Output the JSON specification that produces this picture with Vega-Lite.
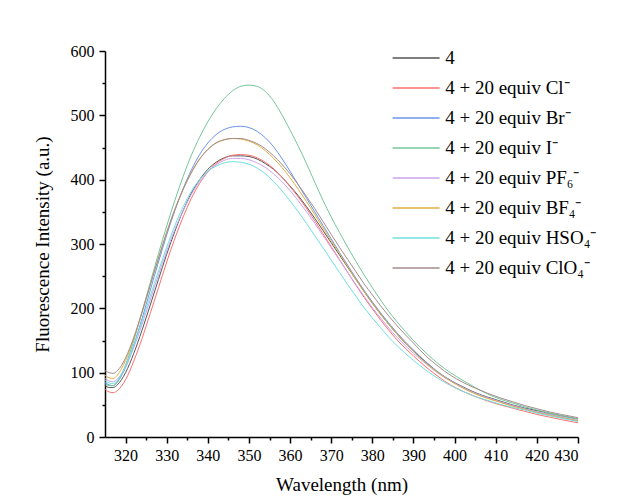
{
  "$schema": "https://vega.github.io/schema/vega-lite/v6.json",
  "width": 473,
  "height": 386,
  "autosize": "none",
  "padding": {"left": 105, "top": 51, "right": 43, "bottom": 61},
  "background": "white",
  "config": {
    "font": "Liberation Serif",
    "view": {"stroke": null},
    "axis": {"grid": false, "domainColor": "black", "domainWidth": 1.5, "tickColor": "black", "tickWidth": 1.5, "labelColor": "black", "titleColor": "black", "labelFont": "Liberation Serif", "titleFont": "Liberation Serif", "labelFontSize": 16, "titleFontSize": 19, "titleFontWeight": "normal"},
    "legend": {"labelFont": "Liberation Serif"}
  },
  "data": {"values": [
    {"x":315,"a":80,"b":74,"c":85,"d":83,"e":91,"f":96,"g":88,"h":103},
    {"x":316,"a":77,"b":70,"c":81,"d":80,"e":87,"f":92,"g":84,"h":100},
    {"x":317,"a":77,"b":69,"c":80,"d":80,"e":86,"f":91,"g":83,"h":99},
    {"x":318,"a":81,"b":72,"c":85,"d":86,"e":90,"f":96,"g":88,"h":103},
    {"x":319,"a":89,"b":79,"c":95,"d":97,"e":98,"f":106,"g":97,"h":111},
    {"x":320,"a":100,"b":89,"c":108,"d":112,"e":109,"f":119,"g":110,"h":123},
    {"x":322,"a":130,"b":118,"c":143,"d":150,"e":139,"f":153,"g":142,"h":155},
    {"x":324,"a":166,"b":153,"c":184,"d":195,"e":175,"f":193,"g":180,"h":194},
    {"x":326,"a":205,"b":192,"c":228,"d":240,"e":213,"f":236,"g":219,"h":236},
    {"x":328,"a":245,"b":232,"c":272,"d":285,"e":252,"f":278,"g":258,"h":278},
    {"x":330,"a":284,"b":272,"c":314,"d":328,"e":289,"f":318,"g":295,"h":318},
    {"x":332,"a":320,"b":309,"c":352,"d":368,"e":323,"f":354,"g":329,"h":354},
    {"x":334,"a":352,"b":342,"c":386,"d":405,"e":352,"f":385,"g":358,"h":385},
    {"x":336,"a":379,"b":371,"c":415,"d":438,"e":377,"f":411,"g":382,"h":411},
    {"x":338,"a":400,"b":394,"c":439,"d":466,"e":397,"f":432,"g":400,"h":432},
    {"x":340,"a":416,"b":412,"c":457,"d":490,"e":412,"f":447,"g":413,"h":447},
    {"x":342,"a":427,"b":425,"c":470,"d":510,"e":423,"f":457,"g":421,"h":457},
    {"x":344,"a":434,"b":433,"c":478,"d":526,"e":430,"f":462,"g":426,"h":462},
    {"x":346,"a":437,"b":438,"c":482,"d":538,"e":433,"f":464,"g":428,"h":464},
    {"x":348,"a":437,"b":439,"c":483,"d":545,"e":433,"f":463,"g":427,"h":464},
    {"x":350,"a":436,"b":438,"c":481,"d":547,"e":431,"f":460,"g":424,"h":461},
    {"x":352,"a":432,"b":434,"c":475,"d":545,"e":426,"f":454,"g":418,"h":456},
    {"x":354,"a":425,"b":427,"c":465,"d":537,"e":419,"f":445,"g":409,"h":448},
    {"x":356,"a":416,"b":417,"c":451,"d":522,"e":409,"f":433,"g":397,"h":437},
    {"x":358,"a":404,"b":404,"c":433,"d":501,"e":397,"f":419,"g":383,"h":424},
    {"x":360,"a":390,"b":389,"c":413,"d":477,"e":383,"f":403,"g":367,"h":409},
    {"x":362,"a":375,"b":373,"c":392,"d":452,"e":367,"f":385,"g":350,"h":392},
    {"x":364,"a":358,"b":355,"c":371,"d":425,"e":350,"f":366,"g":332,"h":374},
    {"x":366,"a":340,"b":336,"c":350,"d":396,"e":332,"f":346,"g":313,"h":355},
    {"x":368,"a":321,"b":316,"c":329,"d":368,"e":313,"f":325,"g":294,"h":335},
    {"x":370,"a":302,"b":296,"c":308,"d":342,"e":294,"f":305,"g":275,"h":315},
    {"x":372,"a":283,"b":276,"c":287,"d":318,"e":275,"f":285,"g":256,"h":295},
    {"x":374,"a":264,"b":256,"c":267,"d":295,"e":256,"f":265,"g":237,"h":276},
    {"x":376,"a":245,"b":236,"c":247,"d":273,"e":237,"f":245,"g":219,"h":257},
    {"x":378,"a":226,"b":217,"c":228,"d":252,"e":219,"f":226,"g":201,"h":238},
    {"x":380,"a":208,"b":199,"c":210,"d":232,"e":201,"f":208,"g":185,"h":221},
    {"x":382,"a":191,"b":182,"c":193,"d":213,"e":185,"f":191,"g":170,"h":204},
    {"x":384,"a":175,"b":166,"c":177,"d":195,"e":169,"f":175,"g":155,"h":188},
    {"x":386,"a":160,"b":151,"c":162,"d":179,"e":155,"f":160,"g":142,"h":173},
    {"x":388,"a":146,"b":138,"c":148,"d":164,"e":142,"f":146,"g":130,"h":159},
    {"x":390,"a":134,"b":126,"c":135,"d":150,"e":130,"f":133,"g":119,"h":146},
    {"x":393,"a":116,"b":109,"c":117,"d":131,"e":114,"f":115,"g":104,"h":126},
    {"x":396,"a":100,"b":94,"c":101,"d":114,"e":99,"f":100,"g":91,"h":110},
    {"x":399,"a":88,"b":81,"c":88,"d":100,"e":87,"f":87,"g":80,"h":96},
    {"x":402,"a":78,"b":71,"c":77,"d":88,"e":77,"f":76,"g":71,"h":85},
    {"x":405,"a":69,"b":63,"c":68,"d":77,"e":68,"f":67,"g":63,"h":76},
    {"x":408,"a":62,"b":56,"c":61,"d":67,"e":61,"f":60,"g":57,"h":68},
    {"x":411,"a":56,"b":50,"c":55,"d":59,"e":55,"f":54,"g":51,"h":61},
    {"x":414,"a":50,"b":45,"c":49,"d":53,"e":49,"f":48,"g":46,"h":55},
    {"x":417,"a":45,"b":40,"c":44,"d":47,"e":44,"f":43,"g":42,"h":49},
    {"x":420,"a":41,"b":35,"c":39,"d":42,"e":39,"f":38,"g":37,"h":44},
    {"x":423,"a":37,"b":31,"c":35,"d":37,"e":35,"f":34,"g":33,"h":39},
    {"x":426,"a":33,"b":27,"c":31,"d":33,"e":31,"f":30,"g":29,"h":35},
    {"x":430,"a":28,"b":22,"c":25,"d":28,"e":26,"f":25,"g":24,"h":30}
  ]},
  "transform": [
    {"fold": ["a","b","c","d","e","f","g","h"], "as": ["key","value"]},
    {"lookup": "key", "from": {"data": {"values": [
      {"key":"a","label":"4"},
      {"key":"b","label":"4 + 20 equiv Cl⁻"},
      {"key":"c","label":"4 + 20 equiv Br⁻"},
      {"key":"d","label":"4 + 20 equiv I⁻"},
      {"key":"e","label":"4 + 20 equiv PF₆⁻"},
      {"key":"f","label":"4 + 20 equiv BF₄⁻"},
      {"key":"g","label":"4 + 20 equiv HSO₄⁻"},
      {"key":"h","label":"4 + 20 equiv ClO₄⁻"}
    ]}, "key": "key", "fields": ["label"]}}
  ],
  "mark": {"type": "line", "strokeWidth": 1, "interpolate": "monotone"},
  "encoding": {
    "x": {"field": "x", "type": "quantitative", "scale": {"domain": [315, 430], "nice": false, "zero": false},
      "axis": {"title": "Wavelength (nm)", "values": [320,325,330,335,340,345,350,355,360,365,370,375,380,385,390,395,400,405,410,415,420,425,430],
        "labelExpr": "datum.value % 10 === 0 ? datum.label : ''", "tickSize": {"condition": {"test": "datum.value % 10 === 0", "value": 6}, "value": 3},
        "labelFont": "Liberation Serif", "titleFont": "Liberation Serif", "labelFontSize": 16, "titleFontSize": 19,
        "labelPadding": 4, "titlePadding": 12}},
    "y": {"field": "value", "type": "quantitative", "scale": {"domain": [0, 600], "nice": false},
      "axis": {"title": "Fluorescence Intensity (a.u.)", "values": [0,50,100,150,200,250,300,350,400,450,500,550,600],
        "labelExpr": "datum.value % 100 === 0 ? datum.label : ''", "tickSize": {"condition": {"test": "datum.value % 100 === 0", "value": 6}, "value": 3},
        "labelFont": "Liberation Serif", "titleFont": "Liberation Serif", "labelFontSize": 16, "titleFontSize": 19,
        "labelPadding": 5, "titlePadding": 18}},
    "color": {"field": "label", "type": "nominal",
      "scale": {"domain": ["4","4 + 20 equiv Cl⁻","4 + 20 equiv Br⁻","4 + 20 equiv I⁻","4 + 20 equiv PF₆⁻","4 + 20 equiv BF₄⁻","4 + 20 equiv HSO₄⁻","4 + 20 equiv ClO₄⁻"],
        "range": ["#555555","#ff6f6f","#6a94ec","#74c69a","#cda4ec","#e0b040","#70e0e0","#a48c8c"]},
      "legend": {"title": null, "orient": "none", "legendX": 301.6, "legendY": -2.5, "symbolType": "M-4,0H4", "symbolSize": 138, "symbolStrokeWidth": 1.5,
        "labelFont": "Liberation Serif", "labelFontSize": 19, "labelColor": "black", "labelLimit": 0, "rowPadding": 10, "labelOffset": 19.6}}
  }
}
